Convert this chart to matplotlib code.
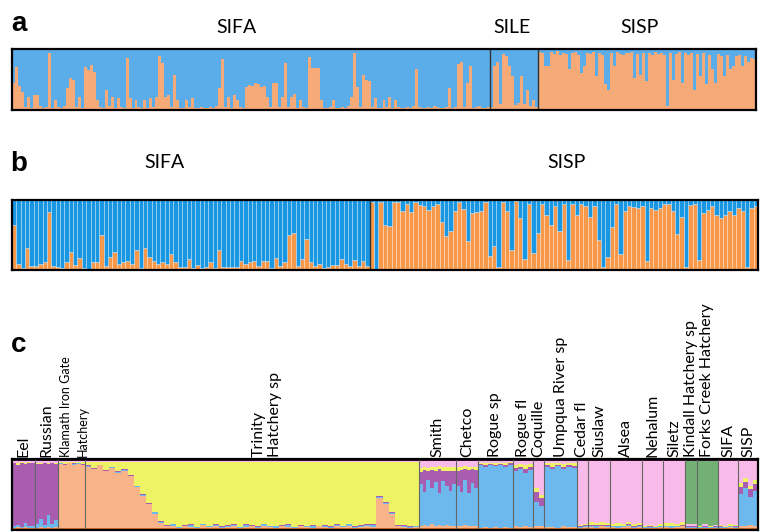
import numpy as np
import matplotlib.pyplot as plt
import matplotlib.transforms as mtransforms

# ---- panel a : SISP-type (orange) ancestry per individual ----
a_sifa = [0.45, 0.70, 0.40, 0.30, 0.05, 0.22, 0.04, 0.25, 0.25, 0.06,
          0.03, 0.05, 0.93, 0.04, 0.16, 0.05, 0.03, 0.06, 0.36, 0.52,
          0.49, 0.05, 0.22, 0.04, 0.71, 0.66, 0.74, 0.62, 0.16, 0.05,
          0.04, 0.33, 0.06, 0.22, 0.04, 0.19, 0.05, 0.03, 0.85, 0.19,
          0.04, 0.16, 0.05, 0.03, 0.16, 0.04, 0.19, 0.05, 0.22, 0.89,
          0.77, 0.22, 0.25, 0.05, 0.58, 0.16, 0.04, 0.03, 0.16, 0.05,
          0.19, 0.04, 0.03, 0.05, 0.04, 0.03, 0.05, 0.04, 0.06, 0.36,
          0.83, 0.05, 0.22, 0.04, 0.25, 0.16, 0.05, 0.04, 0.38, 0.41,
          0.40, 0.45, 0.42, 0.38, 0.40, 0.22, 0.05, 0.44, 0.44, 0.05,
          0.22, 0.77, 0.05, 0.22, 0.27, 0.04, 0.16, 0.05, 0.04, 0.87,
          0.69, 0.69, 0.69, 0.16, 0.04, 0.03, 0.05, 0.16, 0.04, 0.03,
          0.05, 0.04, 0.06, 0.22, 0.93, 0.38, 0.05, 0.58, 0.49, 0.47,
          0.05, 0.19, 0.04, 0.03, 0.16, 0.05, 0.22, 0.04, 0.16, 0.05,
          0.04, 0.03, 0.05, 0.04, 0.06, 0.67, 0.05, 0.04, 0.03, 0.05,
          0.04, 0.06, 0.05, 0.03, 0.04, 0.05, 0.36, 0.04, 0.05, 0.75,
          0.78, 0.05, 0.44, 0.72, 0.04, 0.05, 0.06, 0.04, 0.03, 0.05]
a_sile = [0.05, 0.72, 0.78, 0.10, 0.92, 0.89, 0.72, 0.56,
          0.08, 0.12, 0.56, 0.10, 0.33, 0.06, 0.17, 0.05]
a_sisp = [0.95, 0.93, 0.72, 0.72, 0.95, 0.92, 0.96, 0.90, 0.94, 0.92,
          0.67, 0.93, 0.95, 0.90, 0.61, 0.72, 0.94, 0.92, 0.95, 0.56,
          0.93, 0.90, 0.42, 0.33, 0.94, 0.72, 0.95, 0.92, 0.90, 0.94,
          0.93, 0.95, 0.53, 0.92, 0.58, 0.94, 0.47, 0.93, 0.90, 0.95,
          0.92, 0.94, 0.90, 0.06, 0.93, 0.50, 0.92, 0.95, 0.44, 0.93,
          0.90, 0.94, 0.33, 0.92, 0.56, 0.93, 0.42, 0.90, 0.67, 0.44,
          0.92, 0.88, 0.56, 0.90, 0.67, 0.72, 0.88, 0.90, 0.72, 0.88,
          0.78, 0.86, 0.83]

# ---- panel b ----
b_sifa = [0.65, 0.08, 0.03, 0.32, 0.06, 0.06, 0.08, 0.11, 0.83, 0.06,
          0.05, 0.03, 0.11, 0.26, 0.07, 0.17, 0.03, 0.02, 0.11, 0.11,
          0.50, 0.06, 0.18, 0.26, 0.08, 0.12, 0.13, 0.08, 0.29, 0.03,
          0.32, 0.19, 0.13, 0.08, 0.11, 0.08, 0.23, 0.11, 0.04, 0.05,
          0.16, 0.03, 0.07, 0.03, 0.04, 0.11, 0.03, 0.28, 0.04, 0.05,
          0.05, 0.04, 0.13, 0.08, 0.11, 0.13, 0.06, 0.13, 0.13, 0.03,
          0.17, 0.06, 0.11, 0.50, 0.53, 0.06, 0.16, 0.44, 0.11, 0.06,
          0.08, 0.03, 0.04, 0.07, 0.07, 0.16, 0.08, 0.06, 0.14, 0.06,
          0.13, 0.06]
b_sisp = [0.97, 0.02, 0.97, 0.64, 0.63, 0.97, 0.97, 0.84, 0.95, 0.83,
          0.97, 0.93, 0.91, 0.86, 0.92, 0.95, 0.69, 0.48, 0.56, 0.84,
          0.97, 0.87, 0.41, 0.81, 0.83, 0.84, 0.97, 0.20, 0.34, 0.04,
          0.97, 0.84, 0.28, 0.98, 0.74, 0.16, 0.95, 0.25, 0.53, 0.95,
          0.78, 0.65, 0.92, 0.56, 0.95, 0.15, 0.95, 0.78, 0.95, 0.92,
          0.76, 0.92, 0.43, 0.05, 0.18, 0.61, 0.94, 0.23, 0.84, 0.91,
          0.90, 0.89, 0.91, 0.13, 0.89, 0.86, 0.89, 0.94, 0.94, 0.84,
          0.51, 0.76, 0.05, 0.93, 0.94, 0.15, 0.81, 0.86, 0.91, 0.79,
          0.74, 0.79, 0.85, 0.79, 0.89, 0.84, 0.05, 0.89, 0.91]

# ---- panel c : clusters stacked bottom->top (peach, blue, purple, yellow, pink, green) ----
c_pops = ['Eel', 'Russian', 'Klamath Iron Gate\nHatchery', 'Trinity\nHatchery sp',
          'Smith', 'Chetco', 'Rogue sp', 'Rogue fl', 'Coquille', 'Umpqua River sp',
          'Cedar fl', 'Siuslaw', 'Alsea', 'Nehalum', 'Siletz', 'Kindall Hatchery sp',
          'Forks Creek Hatchery', 'SIFA', 'SISP']
c_n = [23, 23, 27, 334, 37, 22, 35, 20, 11, 33, 11, 22, 32, 21, 22, 12, 21, 20, 20]
c_edge = (0.025, 0.035)  # bottom / top minor clusters

eel_q = [(0.01, 0.02, 0.94, 0.01, 0.02, 0), (0.02, 0.03, 0.90, 0.02, 0.03, 0),
         (0.01, 0.01, 0.96, 0.01, 0.01, 0), (0.02, 0.06, 0.88, 0.02, 0.02, 0),
         (0.01, 0.02, 0.95, 0.01, 0.01, 0), (0.01, 0.03, 0.93, 0.01, 0.02, 0)]
russian_q = [(0.01, 0.05, 0.90, 0.02, 0.02, 0), (0.02, 0.12, 0.82, 0.02, 0.02, 0),
             (0.01, 0.04, 0.92, 0.01, 0.02, 0), (0.02, 0.18, 0.76, 0.02, 0.02, 0),
             (0.01, 0.06, 0.90, 0.01, 0.02, 0), (0.02, 0.10, 0.84, 0.02, 0.02, 0)]
klamath_q = [(0.96, 0.01, 0.01, 0.01, 0.01, 0), (0.94, 0.01, 0.01, 0.03, 0.01, 0),
             (0.97, 0.01, 0.00, 0.01, 0.01, 0), (0.95, 0.01, 0.01, 0.02, 0.01, 0),
             (0.96, 0.01, 0.01, 0.01, 0.01, 0), (0.94, 0.01, 0.01, 0.03, 0.01, 0)]
trinity_q = [(0.92, 0.01, 0.01, 0.05, 0.01, 0), (0.88, 0.01, 0.01, 0.09, 0.01, 0),
             (0.94, 0.01, 0.00, 0.04, 0.01, 0), (0.85, 0.01, 0.01, 0.12, 0.01, 0),
             (0.90, 0.01, 0.01, 0.07, 0.01, 0), (0.82, 0.02, 0.01, 0.14, 0.01, 0),
             (0.86, 0.01, 0.01, 0.11, 0.01, 0), (0.78, 0.01, 0.01, 0.19, 0.01, 0),
             (0.62, 0.01, 0.01, 0.35, 0.01, 0), (0.48, 0.02, 0.01, 0.48, 0.01, 0),
             (0.36, 0.01, 0.01, 0.61, 0.01, 0), (0.22, 0.02, 0.01, 0.74, 0.01, 0),
             (0.08, 0.02, 0.01, 0.88, 0.01, 0), (0.03, 0.01, 0.01, 0.94, 0.01, 0),
             (0.04, 0.02, 0.01, 0.92, 0.01, 0), (0.01, 0.01, 0.00, 0.97, 0.01, 0),
             (0.03, 0.01, 0.01, 0.94, 0.01, 0), (0.02, 0.03, 0.01, 0.93, 0.01, 0),
             (0.01, 0.01, 0.00, 0.97, 0.01, 0), (0.05, 0.01, 0.01, 0.92, 0.01, 0),
             (0.02, 0.01, 0.00, 0.96, 0.01, 0), (0.03, 0.02, 0.01, 0.93, 0.01, 0),
             (0.01, 0.01, 0.01, 0.96, 0.01, 0), (0.02, 0.02, 0.01, 0.94, 0.01, 0),
             (0.04, 0.01, 0.01, 0.93, 0.01, 0), (0.01, 0.01, 0.00, 0.97, 0.01, 0),
             (0.02, 0.03, 0.01, 0.93, 0.01, 0), (0.03, 0.01, 0.01, 0.94, 0.01, 0),
             (0.01, 0.01, 0.01, 0.96, 0.01, 0), (0.04, 0.02, 0.01, 0.92, 0.01, 0),
             (0.02, 0.01, 0.00, 0.96, 0.01, 0), (0.01, 0.02, 0.01, 0.95, 0.01, 0),
             (0.03, 0.01, 0.01, 0.94, 0.01, 0), (0.02, 0.03, 0.01, 0.93, 0.01, 0),
             (0.01, 0.01, 0.00, 0.97, 0.01, 0), (0.03, 0.01, 0.01, 0.94, 0.01, 0),
             (0.02, 0.01, 0.01, 0.95, 0.01, 0), (0.01, 0.03, 0.01, 0.94, 0.01, 0),
             (0.03, 0.01, 0.00, 0.95, 0.01, 0), (0.02, 0.02, 0.01, 0.94, 0.01, 0),
             (0.01, 0.01, 0.01, 0.96, 0.01, 0), (0.03, 0.02, 0.01, 0.93, 0.01, 0),
             (0.02, 0.01, 0.00, 0.96, 0.01, 0), (0.03, 0.03, 0.01, 0.92, 0.01, 0),
             (0.01, 0.01, 0.01, 0.96, 0.01, 0), (0.02, 0.02, 0.01, 0.94, 0.01, 0),
             (0.04, 0.01, 0.01, 0.93, 0.01, 0), (0.02, 0.03, 0.01, 0.93, 0.01, 0),
             (0.46, 0.01, 0.01, 0.51, 0.01, 0), (0.36, 0.02, 0.01, 0.60, 0.01, 0),
             (0.22, 0.01, 0.01, 0.75, 0.01, 0), (0.03, 0.01, 0.01, 0.94, 0.01, 0),
             (0.02, 0.02, 0.01, 0.94, 0.01, 0), (0.01, 0.01, 0.01, 0.96, 0.01, 0),
             (0.02, 0.01, 0.01, 0.95, 0.01, 0)]
smith_q = [(0.04, 0.62, 0.18, 0.06, 0.10, 0), (0.05, 0.50, 0.32, 0.05, 0.08, 0),
           (0.03, 0.70, 0.12, 0.05, 0.10, 0), (0.06, 0.55, 0.26, 0.05, 0.08, 0),
           (0.04, 0.66, 0.16, 0.06, 0.08, 0), (0.05, 0.48, 0.36, 0.04, 0.07, 0),
           (0.03, 0.68, 0.15, 0.05, 0.09, 0), (0.05, 0.58, 0.22, 0.06, 0.09, 0),
           (0.04, 0.52, 0.30, 0.05, 0.09, 0), (0.03, 0.64, 0.18, 0.06, 0.09, 0)]
chetco_q = [(0.04, 0.60, 0.22, 0.05, 0.09, 0), (0.03, 0.52, 0.32, 0.04, 0.09, 0),
            (0.05, 0.68, 0.15, 0.05, 0.07, 0), (0.03, 0.50, 0.34, 0.04, 0.09, 0),
            (0.04, 0.64, 0.20, 0.04, 0.08, 0), (0.03, 0.58, 0.26, 0.05, 0.08, 0)]
rogue_sp_q = [(0.01, 0.93, 0.02, 0.02, 0.02, 0), (0.02, 0.90, 0.03, 0.03, 0.02, 0),
              (0.01, 0.94, 0.01, 0.02, 0.02, 0), (0.02, 0.91, 0.02, 0.02, 0.03, 0),
              (0.01, 0.93, 0.02, 0.02, 0.02, 0), (0.02, 0.89, 0.03, 0.03, 0.03, 0),
              (0.01, 0.94, 0.02, 0.02, 0.01, 0)]
rogue_fl_q = [(0.03, 0.82, 0.05, 0.05, 0.05, 0), (0.02, 0.86, 0.04, 0.04, 0.04, 0),
              (0.04, 0.78, 0.06, 0.06, 0.06, 0), (0.02, 0.85, 0.05, 0.04, 0.04, 0)]
coquille_q = [(0.04, 0.35, 0.15, 0.06, 0.40, 0), (0.03, 0.30, 0.12, 0.05, 0.50, 0)]
umpqua_q = [(0.02, 0.90, 0.03, 0.03, 0.02, 0), (0.02, 0.86, 0.04, 0.05, 0.03, 0),
            (0.01, 0.92, 0.02, 0.03, 0.02, 0), (0.03, 0.85, 0.04, 0.04, 0.04, 0),
            (0.02, 0.90, 0.03, 0.03, 0.02, 0), (0.02, 0.88, 0.03, 0.04, 0.03, 0)]
cedar_q = [(0.01, 0.01, 0.01, 0.02, 0.95, 0), (0.02, 0.02, 0.01, 0.02, 0.93, 0)]
siuslaw_q = [(0.02, 0.02, 0.01, 0.04, 0.91, 0), (0.01, 0.03, 0.01, 0.03, 0.92, 0),
             (0.03, 0.01, 0.01, 0.05, 0.90, 0), (0.02, 0.02, 0.01, 0.03, 0.92, 0)]
alsea_q = [(0.02, 0.01, 0.01, 0.03, 0.93, 0), (0.01, 0.02, 0.01, 0.04, 0.92, 0),
           (0.02, 0.01, 0.01, 0.02, 0.94, 0), (0.03, 0.02, 0.01, 0.04, 0.90, 0),
           (0.01, 0.01, 0.01, 0.03, 0.94, 0), (0.02, 0.02, 0.01, 0.03, 0.92, 0)]
nehalum_q = [(0.01, 0.01, 0.00, 0.02, 0.96, 0), (0.01, 0.01, 0.01, 0.02, 0.95, 0),
             (0.01, 0.01, 0.00, 0.01, 0.97, 0), (0.02, 0.01, 0.01, 0.02, 0.94, 0)]
siletz_q = [(0.02, 0.01, 0.01, 0.04, 0.92, 0), (0.01, 0.02, 0.01, 0.04, 0.92, 0),
            (0.02, 0.01, 0.01, 0.03, 0.93, 0), (0.03, 0.01, 0.01, 0.04, 0.91, 0)]
kindall_q = [(0.01, 0.01, 0.01, 0.01, 0.02, 0.94), (0.01, 0.01, 0.01, 0.01, 0.02, 0.94)]
forks_q = [(0.01, 0.01, 0.00, 0.01, 0.01, 0.96), (0.01, 0.01, 0.01, 0.01, 0.02, 0.94),
           (0.01, 0.01, 0.00, 0.01, 0.01, 0.96), (0.01, 0.01, 0.01, 0.01, 0.01, 0.95)]
sifa_c_q = [(0.01, 0.01, 0.01, 0.02, 0.95, 0), (0.01, 0.01, 0.00, 0.02, 0.96, 0),
            (0.02, 0.01, 0.01, 0.02, 0.94, 0), (0.01, 0.01, 0.01, 0.02, 0.95, 0)]
sisp_c_q = [(0.04, 0.48, 0.10, 0.06, 0.32, 0), (0.03, 0.58, 0.08, 0.06, 0.25, 0),
            (0.05, 0.42, 0.12, 0.05, 0.36, 0), (0.04, 0.52, 0.10, 0.06, 0.28, 0)]
c_q = [eel_q, russian_q, klamath_q, trinity_q, smith_q, chetco_q, rogue_sp_q,
       rogue_fl_q, coquille_q, umpqua_q, cedar_q, siuslaw_q, alsea_q, nehalum_q,
       siletz_q, kindall_q, forks_q, sifa_c_q, sisp_c_q]
c_label_shift = {'Trinity\nHatchery sp': 15, 'Klamath Iron Gate\nHatchery': 3}

# colours
a_cols = ('#f5aa78', '#5badea')
b_cols = ('#f89848', '#1997e3')
c_cols = ['#f8b388', '#6db9ee', '#a85db0', '#eef265', '#f8bbe9', '#72b173']
c_edge_cols = ('#d2702e', '#2c1030')

plt.rcParams['font.family'] = ['Lato', 'DejaVu Sans']
fig = plt.figure(figsize=(7.65, 5.32), dpi=100)


def frame(ax):
    ax.set_xticks([])
    ax.set_yticks([])
    for s in ax.spines.values():
        s.set_linewidth(1.6)
        s.set_color('black')


def two_cluster(ax, groups, cols, edge=None):
    vals = np.concatenate([np.asarray(g, float) for g in groups])
    x = np.arange(len(vals))
    ec = edge if edge else 'none'
    lw = 0.6 if edge else 0
    ax.bar(x, vals, width=1.0, align='edge', color=cols[0], edgecolor=ec, linewidth=lw)
    ax.bar(x, 1 - vals, bottom=vals, width=1.0, align='edge', color=cols[1],
           edgecolor=ec, linewidth=lw)
    pos = np.cumsum([len(g) for g in groups])[:-1]
    for p in pos:
        ax.axvline(p, color='#333333', lw=1.0)
    ax.set_xlim(0, len(vals))
    ax.set_ylim(0, 1)
    frame(ax)


# panel a
ax_a = fig.add_axes([12 / 765, 1 - 110 / 532, 744 / 765, 61 / 532])
two_cluster(ax_a, [a_sifa, a_sile, a_sisp], a_cols)
for lab, xf in [('SIFA', 0.302), ('SILE', 0.672), ('SISP', 0.844)]:
    ax_a.text(xf, 1.36, lab, transform=ax_a.transAxes, ha='center', va='center',
              fontsize=14)

# panel b
ax_b = fig.add_axes([12 / 765, 1 - 270 / 532, 746 / 765, 70 / 532])
two_cluster(ax_b, [b_sifa, b_sisp], b_cols, edge=(1, 1, 1, 0.35))
for lab, xf in [('SIFA', 0.205), ('SISP', 0.744)]:
    ax_b.text(xf, 1.53, lab, transform=ax_b.transAxes, ha='center', va='center',
              fontsize=14)

# panel c
ax_c = fig.add_axes([12 / 765, 1 - 530 / 532, 746 / 765, 71 / 532])
starts = np.concatenate([[0], np.cumsum(c_n)[:-1]])
for start, n, prof in zip(starts, c_n, c_q):
    q = np.asarray(prof, float)
    q = q / q.sum(axis=1, keepdims=True) * (1 - sum(c_edge))
    w = n / len(q)
    x = start + w * np.arange(len(q))
    ax_c.bar(x, c_edge[0], width=w, align='edge', color=c_edge_cols[0], linewidth=0)
    bottom = np.full(len(q), c_edge[0])
    for k in range(q.shape[1]):
        ax_c.bar(x, q[:, k], bottom=bottom, width=w, align='edge', color=c_cols[k],
                 linewidth=0)
        bottom = bottom + q[:, k]
    ax_c.bar(x, c_edge[1], bottom=bottom, width=w, align='edge', color=c_edge_cols[1],
             linewidth=0)
for p in starts[1:]:
    ax_c.axvline(p, color='#666666', lw=0.8)
ax_c.set_xlim(0, sum(c_n))
ax_c.set_ylim(0, 1)
frame(ax_c)
trans = mtransforms.blended_transform_factory(ax_c.transData, ax_c.transAxes)
for start, n, lab in zip(starts, c_n, c_pops):
    xc = start + n / 2 + c_label_shift.get(lab, 0)
    small = lab.startswith('Klamath')
    ax_c.text(xc, 1.03, lab, transform=trans, rotation=90, ha='center', va='bottom',
              multialignment='left', fontsize=9 if small else 11.5,
              linespacing=1.5 if small else 1.25)

# panel letters
for lab, yp in [('a', 24), ('b', 164), ('c', 345)]:
    fig.text(19 / 765, 1 - yp / 532, lab, ha='center', va='center', fontsize=20,
             fontweight='bold', family='Liberation Sans')

fig.savefig('out.png', dpi=100)
